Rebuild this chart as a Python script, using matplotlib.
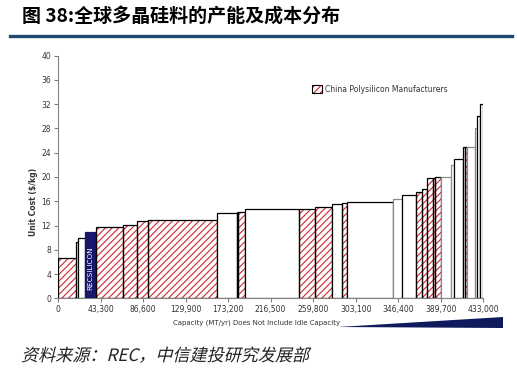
import matplotlib
matplotlib.use("Agg")
from matplotlib import pyplot as plt
from matplotlib.patches import Rectangle, Polygon, PathPatch
from matplotlib.textpath import TextPath
from matplotlib.font_manager import FontProperties
from matplotlib.transforms import Affine2D
import numpy as np

plt.rcParams['font.family'] = ['DejaVu Sans']
plt.rcParams['hatch.linewidth'] = 0.8

# capacity of each producer (MT/yr) and its unit cost ($/kg), sorted by cost
widths = [18000, 2400, 6800, 11900, 27100, 14300, 11200, 69700, 20400, 1600,
          6800, 55300, 16000, 17700, 9500, 5700, 46300, 9200, 14500, 5800,
          5700, 5500, 2300, 5900, 10200, 3400, 8800, 2700, 1700, 8500,
          2100, 2700, 3300]
costs = [6.6, 9.3, 10.0, 11.0, 11.7, 12.1, 12.7, 12.9, 14.0, 14.2,
         14.2, 14.7, 14.8, 15.0, 15.5, 15.75, 15.9, 16.4, 17.0, 17.5,
         18.0, 19.8, 19.9, 20.0, 20.0, 22.0, 23.0, 24.9, 25.0, 25.0,
         28.0, 30.0, 32.0]
# C = China polysilicon manufacturer, O = other, R = REC Silicon
kinds = ['C', 'O', 'O', 'R', 'C', 'C', 'C', 'C', 'O', 'O',
         'C', 'O', 'C', 'C', 'O', 'C', 'O', 'O', 'O', 'C',
         'C', 'C', 'C', 'C', 'O', 'O', 'O', 'O', 'C', 'O',
         'O', 'O', 'O']
gray_edge = [17, 24, 25, 29, 30]

xticks = [0, 43300, 86600, 129900, 173200, 216500, 259800, 303100, 346400, 389700, 433000]
yticks = list(range(0, 41, 4))

red = '#d22630'
navy = '#17176b'

W, H = 517, 371
fig = plt.figure(figsize=(W / 100, H / 100), dpi=100)
ax = fig.add_axes([58 / W, 1 - 298.3 / H, 425.3 / W, 242.6 / H])

lefts = np.concatenate([[0], np.cumsum(widths)[:-1]])
for i, (x0, w, c, k) in enumerate(zip(lefts, widths, costs, kinds)):
    ec = '#8c8c8c' if i in gray_edge else 'black'
    if k == 'C':
        ax.bar(x0, c, w, align='edge', color='white', edgecolor=red,
               hatch='/////', linewidth=0, zorder=2)
        ax.bar(x0, c, w, align='edge', fill=False, edgecolor=ec,
               linewidth=0.9, zorder=3)
    elif k == 'R':
        ax.bar(x0, c, w, align='edge', color=navy, edgecolor=navy,
               linewidth=0.9, zorder=3)
        ax.text(x0 + w / 2, 4.9, 'RECSILICON', rotation=90, color='white',
                fontsize=5.2, ha='center', va='center', zorder=4)
    else:
        ax.bar(x0, c, w, align='edge', color='white', edgecolor=ec,
               linewidth=0.9, zorder=3)

ax.set_xlim(0, 433000)
ax.set_ylim(0, 40)
ax.set_xticks(xticks)
ax.set_xticklabels([f'{t:,}' for t in xticks])
ax.set_yticks(yticks)
ax.tick_params(axis='both', direction='out', length=3, width=0.8,
               color='#808080', labelsize=5.5, labelcolor='#333333', pad=2)
for s in ['top', 'right']:
    ax.spines[s].set_visible(False)
for s in ['left', 'bottom']:
    ax.spines[s].set_color('#808080')
    ax.spines[s].set_linewidth(0.8)

fig.text(33 / W, 1 - 202 / H, 'Unit Cost ($/kg)', rotation=90, fontsize=5.5,
         fontweight='bold', color='#333333', ha='center', va='center')
fig.text(257 / W, 1 - 323 / H, 'Capacity (MT/yr) Does Not Include Idle Capacity',
         fontsize=5, color='#333333', ha='center', va='center')

# legend
fig.patches.append(Rectangle((312 / W, 1 - 93.3 / H), 10 / W, 8.3 / H,
                             transform=fig.transFigure, facecolor='white',
                             edgecolor=red, hatch='/////', linewidth=0))
fig.patches.append(Rectangle((312 / W, 1 - 93.3 / H), 10 / W, 8.3 / H,
                             transform=fig.transFigure, fill=False,
                             edgecolor='black', linewidth=0.8))
fig.text(325 / W, 1 - 89 / H, 'China Polysilicon Manufacturers', fontsize=5.5,
         color='#333333', ha='left', va='center')

# header
fig.text(22 / W, 1 - 16 / H, '图 38:全球多晶硅料的产能及成本分布',
         family=['Noto Sans CJK SC', 'DejaVu Sans'], fontweight='bold',
         fontsize=13.7, ha='left', va='center', color='black')
fig.add_artist(plt.Line2D([10 / W, 512 / W], [1 - 35.5 / H, 1 - 35.5 / H],
                          transform=fig.transFigure, color='#1c4a70', linewidth=2.4))

# decorative swoosh
fig.patches.append(Polygon([(338 / W, 1 - 327 / H), (503 / W, 1 - 317 / H),
                            (503 / W, 1 - 328 / H)], closed=True,
                           transform=fig.transFigure, facecolor='#0f1a5c',
                           edgecolor='none'))

# source note, slanted like the original
src = TextPath((0, 0), '资料来源：REC，中信建投研究发展部', size=12.3,
               prop=FontProperties(family='Noto Sans CJK SC'))
src_tr = Affine2D().skew_deg(14, 0).scale(100 / 72).translate(21, 371 - 361)
fig.patches.append(PathPatch(src, transform=src_tr, facecolor='#222222',
                             edgecolor='none'))

fig.savefig('out.png', dpi=100)
